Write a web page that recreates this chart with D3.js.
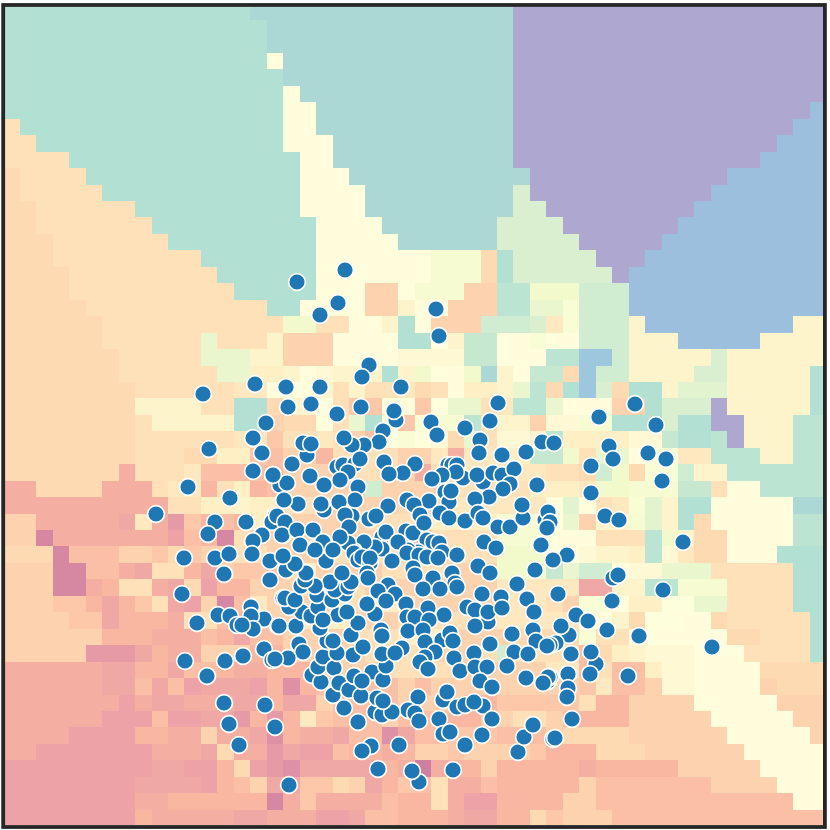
<!DOCTYPE html>
<html>
<head>
<meta charset="utf-8">
<style>
  html, body { margin: 0; padding: 0; background: #fff; }
  svg { display: block; }
</style>
<script src="https://cdn.jsdelivr.net/npm/d3@7"></script>
</head>
<body>
<div id="chart"></div>
<script>
// colour stops of the Spectral map
const spectralStops = ["#9e0142", "#d53e4f", "#f46d43", "#fdae61", "#fee08b", "#ffffbf", "#e6f598", "#abdda4", "#66c2a5", "#3288bd", "#5e4fa2"];

// decision surface, one line per row: level (base 36, 0-z) + first column of the run
const surfaceRows = [
  "s0 t15 z31",
  "s0 t16 z31",
  "s0 t16 z31",
  "s0 h16 t17 z31",
  "s0 t17 z31",
  "s0 h17 t18 z31",
  "s0 h17 t19 z31 w49",
  "c0 s1 h17 t19 z31 w48",
  "c0 s2 h17 t20 z31 w47",
  "c0 s4 h18 t20 z31 w46",
  "b0 c1 s5 h18 t21 z32 w44",
  "b0 c1 s6 h18 t22 o31 z32 w43",
  "b0 c2 s8 h18 t22 o31 z33 w42",
  "b0 c2 s9 h19 t23 o30 z34 w41",
  "b0 c3 s10 h19 t24 o30 z35 w40",
  "b0 c3 s12 h19 k26 b29 s30 o31 z36 w39",
  "b0 c4 s13 h19 k26 b29 s30 o31 z37 w38",
  "b0 c4 s14 h19 a22 h24 k25 a28 r30 l32 p35 w38",
  "b0 c5 s16 h18 a22 f24 h25 a27 r30 m32 j34 p35 w38",
  "b0 c6 l17 c19 h21 f23 s24 h25 a26 p29 o32 d33 j34 p35 f38 w39 f48",
  "b0 c6 m12 c13 f16 a17 h20 s24 h26 f27 q28 h30 j32 h33 p35 f38 w41 f46",
  "b0 c7 m12 f15 a17 h20 g24 q28 h30 r33 v35 p37 f38 o43 f44",
  "b0 c7 m13 e15 f17 h18 g19 f20 s23 f24 l25 h26 l28 t29 f30 h31 q32 b34 v35 p36 f38 o42 f44 s49",
  "b0 c8 d14 h16 f19 c20 f21 c22 d24 b25 c26 h27 e28 f30 m31 r32 b33 s34 v35 o36 b37 s38 f40 n41 f44 s49",
  "b0 f8 c12 s14 b16 f17 h19 c20 921 h23 925 h26 m27 c29 d30 r31 m33 h34 a37 s39 o40 z43 f44 s49",
  "b0 c8 f9 s14 a16 b17 h19 c20 m21 s22 h23 924 j25 k26 r28 c29 f30 a32 g33 k35 s37 o40 s41 z43 f45 r48",
  "b0 c8 d14 916 c17 d19 c20 a21 822 h23 j24 h25 g26 b27 m28 c29 g30 f32 r33 e34 g38 q40 s41 r43 z44 f45 r48",
  "b0 c8 b11 e13 915 816 a17 719 c20 a24 d26 627 d28 e30 q32 l34 c35 m36 h38 j39 d41 r43 f46 r48",
  "b0 67 c8 d11 812 a17 c20 a24 625 c26 d28 c33 b35 p36 l37 b38 j39 p41 f42 r44",
  "60 b2 66 c9 d10 712 c13 e14 715 816 a17 p22 a23 c27 e32 d35 l36 k38 q41 c43 h44 r46",
  "60 c10 e12 f14 e15 c17 a20 b24 d27 h33 n34 h35 c36 d37 j38 n39 f40 s41 h43 t48",
  "a0 62 57 d8 69 310 911 712 813 714 e15 a16 c22 e26 k30 h33 m34 a35 f36 k38 n39 f40 s41 b42 h43 r48",
  "a0 12 63 410 811 712 113 c14 a15 724 c26 k30 h33 c36 r39 l40 f41 b42 h44 r48",
  "b0 13 84 a7 99 b10 911 a12 c14 a16 c20 a24 c27 l30 h33 g35 f36 e38 r39 g40 d41 b42 h44 s47",
  "a0 13 85 67 58 c9 711 512 a13 914 c17 e18 a19 c23 a27 l30 q33 m34 p35 h37 g38 m40 c43 s48",
  "a0 13 65 76 c7 69 510 b11 412 713 a15 c18 a22 d30 535 f37 r39 k41 c44 s48",
  "a0 93 75 56 77 98 c9 510 411 a12 113 814 d15 a16 c20 e22 a25 d30 c33 a34 j35 h37 e38 i40 m42 c44 s48",
  "a0 94 56 77 610 c11 813 714 a15 e18 a21 c24 d30 h35 f37 b38 i39 h41 b43 c44 s49",
  "a0 76 69 812 713 514 815 a17 c21 e24 a27 b31 j35 c36 h38 b44 c46 s49",
  "a0 35 58 79 610 a12 715 a17 c22 a26 c29 p30 c31 835 b36 e37 f38 g39 h42 c45 s49",
  "60 56 78 510 811 713 614 716 a19 c23 a28 d33 835 c36 837 e39 g40 h42 b46",
  "60 56 88 59 810 411 512 415 716 217 718 819 a24 825 a26 935 d36 837 a39 g40 h42 a46 b47",
  "60 47 68 59 611 514 716 517 a19 820 a24 728 930 c35 736 a38 h42 a47",
  "60 46 89 410 512 314 715 316 717 d18 919 820 a23 824 727 a29 c31 a33 834 735 a38 h43 a48",
  "60 44 78 610 a12 613 515 216 717 618 520 821 223 524 825 927 830 a33 b34 a38 h44 a49",
  "60 42 69 512 b13 614 316 517 418 820 721 623 724 a25 927 a28 932 733 b36 a39 h45",
  "40 59 411 713 b14 415 316 217 518 723 624 025 626 727 a29 730 635 736 a41 h46",
  "40 58 412 713 814 a15 516 918 b20 a21 522 723 924 825 c26 627 829 730 a35 836 a43 h47",
  "40 68 710 116 617 918 619 823 724 c26 627 428 730 a34 836 h48",
  "40 78 69 514 616 419 521 822 724 627 528 730 b32 933 a34 837"
];

// scatter values
const points = [
  [255,384],[203,394],[266,423],[253,438],[209,449],[262,453],[253,471],[273,475],[188,487],[230,498],[156,514],[215,522],[246,522],[208,534],[275,516],[272,522],[262,535],[253,541],[283,535],
  [297,282],[338,303],[320,315],[345,270],[436,309],[439,336],[369,365],[362,377],[286,387],[320,387],[401,387],[288,407],[311,404],[337,414],[361,407],[396,420],[394,411],[431,422],[437,435],[465,428],[498,403],[490,421],[480,440],[479,453],[502,455],[526,452],[542,442],[554,443],[383,431],[379,442],[364,445],[352,445],[344,438],[307,455],[303,443],[311,444],[292,464],[384,462],[415,464],[403,473],[389,474],[337,467],[343,465],[355,464],[360,459],[348,472],[340,480],[324,485],[310,476],[280,485],[287,483],[273,475],[358,487],[448,465],[452,465],[457,465],[463,478],[456,472],[442,475],[432,479],[483,482],[477,475],[493,473],[502,475],[514,469],[510,484],[503,489],[489,497],[537,485],[475,499],[445,492],[449,502],[451,491],[429,501],[407,500],[414,505],[388,506],[355,500],[339,502],[324,510],[321,504],[298,504],[284,500],[277,516],[285,522],[282,535],[297,530],[313,530],[300,545],[316,548],[333,547],[352,516],[345,515],[349,527],[369,519],[376,516],[382,537],[386,532],[406,531],[413,533],[420,515],[424,523],[440,513],[449,518],[465,521],[478,513],[483,518],[498,527],[510,527],[523,518],[522,505],[545,520],[548,512],[550,522],[547,528],[484,542],[496,548],[541,545],[427,540],[433,542],[439,543],[418,552],[408,550],[398,542],[382,549],[375,547],[364,542],[354,551],[348,543],[340,537],[442,552],[323,542],
  [635,404],[599,417],[656,425],[609,446],[613,459],[648,453],[666,459],[591,466],[662,481],[591,493],[605,516],[619,520],[683,542],[567,555],[553,560],[613,578],[618,575],[663,590],[558,594],[612,601],[576,615],[588,621],[569,635],[561,626],[607,630],[639,636],[712,647],[556,643],[550,645],[596,664],[591,652],[571,654],[590,674],[628,676],[568,674],[548,681],[550,677],[568,688],[567,697],[572,719],[553,739],
  [184,558],[215,558],[229,554],[252,554],[270,561],[224,574],[270,580],[182,594],[283,598],[251,607],[218,615],[230,616],[264,619],[251,616],[278,626],[197,623],[237,625],[253,629],[242,625],[264,649],[272,660],[243,656],[225,661],[185,661],[207,676],[224,703],[265,705],[229,724],[275,727],[239,745],
  [289,785],[378,769],[419,782],[412,771],[453,770],[371,746],[362,751],[399,745],[358,722],[344,708],[333,695],[312,675],[321,682],[318,667],[323,657],[334,668],[339,683],[349,690],[354,676],[361,696],[372,672],[383,680],[362,681],[386,666],[382,654],[353,655],[337,653],[363,647],[327,641],[333,641],[351,635],[320,628],[296,626],[279,626],[299,644],[303,652],[288,658],[275,659],[358,623],[375,614],[338,615],[347,612],[302,612],[311,616],[289,607],[285,598],[295,600],[318,607],[323,620],[317,595],[332,600],[345,594],[335,590],[330,582],[301,586],[315,586],[305,580],[348,587],[351,582],[342,573],[306,573],[286,570],[295,564],[326,561],[283,556],[315,550],[333,550],[354,553],[358,560],[362,557],[370,563],[370,558],[367,573],[368,578],[392,561],[407,553],[419,555],[427,557],[438,558],[457,555],[413,568],[415,575],[452,573],[455,583],[457,587],[433,578],[423,589],[440,589],[388,585],[378,591],[395,594],[386,601],[367,604],[406,604],[428,608],[407,617],[415,617],[444,615],[429,620],[408,631],[423,630],[402,648],[395,653],[381,630],[382,636],[425,642],[442,640],[450,633],[453,641],[435,652],[425,657],[420,662],[428,669],[454,658],[460,671],[474,653],[475,667],[487,667],[480,681],[492,687],[490,644],[488,622],[467,607],[475,610],[475,626],[482,594],[488,612],[501,597],[502,608],[478,566],[490,573],[517,584],[535,570],[527,599],[534,612],[533,630],[512,634],[514,652],[536,641],[528,654],[547,646],[507,666],[526,678],[548,677],[543,683],[418,697],[443,700],[447,692],[408,710],[415,713],[419,721],[375,712],[382,715],[392,712],[377,698],[383,701],[439,719],[457,707],[465,705],[483,706],[474,702],[492,719],[443,734],[450,732],[482,735],[465,745],[518,752],[524,737],[533,725],[555,738]
];

const width = 830;
const height = 830;

const svg = d3
  .select("#chart")
  .append("svg")
  .attr("width", width)
  .attr("height", height);

svg
  .append("defs")
  .append("clipPath")
  .attr("id", "plot-clip")
  .append("rect")
  .attr("x", 5)
  .attr("y", 7)
  .attr("width", 818)
  .attr("height", 818);

const plot = svg.append("g").attr("clip-path", "url(#plot-clip)");

// expand the run-length rows to one cell per column
const cells = surfaceRows.flatMap((line, row) => {
  const runs = line.split(" ").map((t) => ({
    level: parseInt(t[0], 36),
    start: +t.slice(1),
  }));
  return runs.flatMap((run, i) => {
    const end = i + 1 < runs.length ? runs[i + 1].start : 50;
    return d3.range(run.start, end).map((col) => ({ row, col, level: run.level }));
  });
});

const colX = d3.scaleBand().domain(d3.range(50)).range([3.5, 826]);
const rowY = d3.scaleBand().domain(d3.range(50)).range([3.6, 826.1]);

const color = d3
  .scaleLinear()
  .domain(spectralStops.map((_, i) => (i / 10) * 35))
  .range(spectralStops);

plot
  .selectAll(".cell")
  .data(cells)
  .enter()
  .append("rect")
  .attr("class", "cell")
  .attr("x", (d) => colX(d.col))
  .attr("y", (d) => rowY(d.row))
  .attr("width", colX.bandwidth())
  .attr("height", rowY.bandwidth())
  .attr("fill", (d) => color(d.level))
  .attr("fill-opacity", 0.5)
  .attr("shape-rendering", "crispEdges");

const x = d3.scaleLinear().domain([0, 830]).range([0, width]);
const y = d3.scaleLinear().domain([0, 830]).range([0, height]);

plot
  .selectAll(".dot")
  .data(points)
  .enter()
  .append("circle")
  .attr("class", "dot")
  .attr("cx", (d) => x(d[0]))
  .attr("cy", (d) => y(d[1]))
  .attr("r", 8.4)
  .attr("fill", "#1f77b4")
  .attr("stroke", "#fff")
  .attr("stroke-width", 1.6);

svg
  .append("rect")
  .attr("x", 3.2)
  .attr("y", 5)
  .attr("width", 821.7)
  .attr("height", 822)
  .attr("fill", "none")
  .attr("stroke", "#262626")
  .attr("stroke-width", 3.8);
</script>
</body>
</html>
